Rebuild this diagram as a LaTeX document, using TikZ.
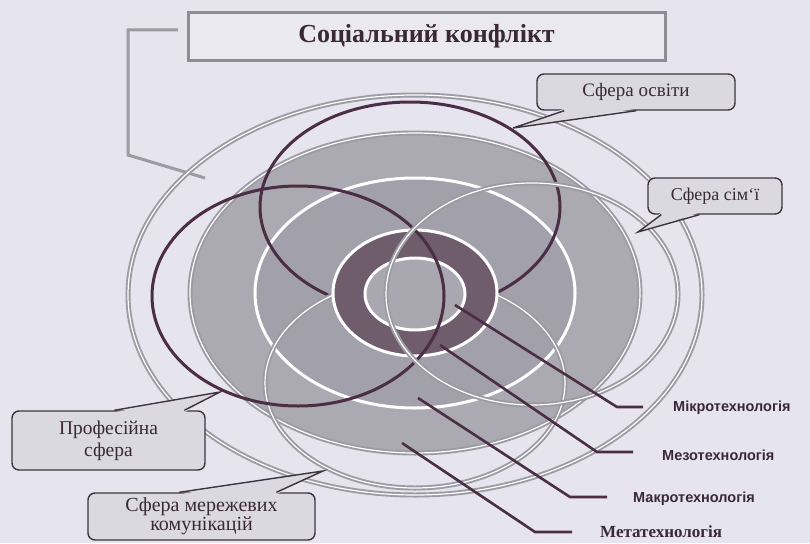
\documentclass[tikz,border=0pt]{standalone}
\usepackage{fontspec}
\setmainfont{Liberation Serif}
\newfontfamily\labfont{Liberation Sans}
\usetikzlibrary{calc}
\definecolor{bg}{HTML}{E6E4EE}
\definecolor{dk}{HTML}{4B2D46}
\definecolor{ringc}{HTML}{9C9BA4}
\definecolor{metac}{HTML}{ABAAB2}
\definecolor{makroc}{HTML}{A2A0AA}
\definecolor{mezoc}{HTML}{6F5C6C}
\definecolor{mikroc}{HTML}{A9A7AF}
\definecolor{callfill}{HTML}{DAD9E0}
\definecolor{callline}{HTML}{3E3340}
\definecolor{titleline}{HTML}{8E8D96}
\definecolor{titlefill}{HTML}{EAE9F1}
\definecolor{txt}{HTML}{3A2838}
\begin{document}
\begin{tikzpicture}[x=1pt,y=-1pt,
  darkring/.style={draw=dk,line width=3pt},
  grayring/.style={draw=ringc,line width=5pt,postaction={draw=white,line width=1.2pt}},
  whitering/.style={draw=white,line width=3pt},
  callbox/.style={draw=callline,line width=1.4pt,fill=callfill,rounded corners=7pt,inner sep=2pt,text=txt,font=\fontsize{19}{21}\selectfont,align=center},
  tailfill/.style={fill=callfill},
  tailline/.style={draw=callline,line width=1.4pt,line join=miter},
  ptr/.style={draw=dk,line width=2.6pt},
  techlab/.style={anchor=west,inner sep=0pt,text=txt,font=\labfont\bfseries\fontsize{14.5}{16}\selectfont},
]
\useasboundingbox (0,0) rectangle (810,543);
\fill[bg] (0,0) rectangle (810,543);

% title
\node[draw=titleline,line width=3pt,fill=titlefill,minimum width=477pt,minimum height=47pt,inner sep=0pt,text=txt,font=\bfseries\fontsize{26}{28}\selectfont] (title) at (426.5,36.5) {Соціальний конфлікт};
\coordinate (brA) at (178,30);
\coordinate (brB) at (128,30);
\coordinate (brC) at (128,155);
\coordinate (brD) at (205,178);
\draw[ringc,line width=3pt] (brA) -- (brB) -- (brC) -- (brD);

% outer ring (social conflict)
\draw[grayring] (415,295) ellipse [x radius=287, y radius=200];

% target
\fill[metac] (415,293) ellipse [x radius=225, y radius=160];
\draw[grayring] (415,293) ellipse [x radius=225, y radius=160];
\fill[makroc] (415,293) ellipse [x radius=160, y radius=115];
\draw[whitering] (415,293) ellipse [x radius=160, y radius=115];

% spheres drawn under the core
\draw[darkring] (410,207) ellipse [x radius=150, y radius=105];
\draw[grayring] (415,383) ellipse [x radius=150, y radius=105];

% core
\fill[mezoc] (415,293) ellipse [x radius=82, y radius=63];
\draw[whitering] (415,293) ellipse [x radius=82, y radius=63];
\fill[mikroc] (415,294) ellipse [x radius=50, y radius=36];
\draw[whitering] (415,294) ellipse [x radius=50, y radius=36];

% spheres over the core
\draw[darkring] (298,296) ellipse [x radius=146, y radius=110];
\draw[grayring] (532,294) ellipse [x radius=146, y radius=111];

% technology labels and pointers
\node[techlab] (mikro) at (673,408) {Мікротехнологія};
\node[techlab] (mezo) at (662,455) {Мезотехнологія};
\node[techlab] (makro) at (633,499) {Макротехнологія};
\node[techlab,font=\bfseries\fontsize{17}{19}\selectfont] (meta) at (600,532) {Метатехнологія};
\coordinate (mikroS) at (455,305);
\coordinate (mikroB) at (617,407);
\coordinate (mezoS) at (440,345);
\coordinate (mezoB) at (597,452);
\coordinate (makroS) at (418,398);
\coordinate (makroB) at (570,497);
\coordinate (metaS) at (402,443);
\coordinate (metaB) at (535,532);
\draw[ptr] (mikroS) -- (mikroB) -- ([xshift=-30pt]mikro.west |- mikroB);
\draw[ptr] (mezoS) -- (mezoB) -- ([xshift=-29pt]mezo.west |- mezoB);
\draw[ptr] (makroS) -- (makroB) -- ([xshift=-26pt]makro.west |- makroB);
\draw[ptr] (metaS) -- (metaB) -- ([xshift=-28pt]meta.west |- metaB);

% callouts
\node[callbox,minimum width=198pt,minimum height=36pt] (osv) at (636,92) {Сфера освіти};
\coordinate (osvtip) at (513,128);
\fill[tailfill] ($(osv.south west)+(28,-2)$) -- (osvtip) -- ($(osv.south west)+(100,-2)$) -- cycle;
\draw[tailline] ($(osv.south west)+(28,0)$) -- (osvtip) -- ($(osv.south west)+(100,0)$);

\node[callbox,minimum width=134pt,minimum height=36pt,font=\fontsize{18}{20}\selectfont] (sim) at (715,196) {Сфера сім`ї};
\coordinate (simtip) at (638,232);
\fill[tailfill] ($(sim.south west)+(14,-2)$) -- (simtip) -- ($(sim.south west)+(52,-2)$) -- cycle;
\draw[tailline] ($(sim.south west)+(14,0)$) -- (simtip) -- ($(sim.south west)+(52,0)$);

\node[callbox,minimum width=193pt,minimum height=59pt,font=\fontsize{19.5}{22}\selectfont] (prof) at (108.5,440.5) {Професійна\\сфера};
\coordinate (proftip) at (220,392);
\fill[tailfill] ($(prof.north west)+(103,2)$) -- (proftip) -- ($(prof.north west)+(173,2)$) -- cycle;
\draw[tailline] ($(prof.north west)+(103,0)$) -- (proftip) -- ($(prof.north west)+(173,0)$);

\node[callbox,minimum width=227pt,minimum height=47pt,font=\fontsize{20}{17}\selectfont] (mer) at (201.5,516.5) {Сфера мережевих\\комунікацій};
\coordinate (mertip) at (323,471);
\fill[tailfill] ($(mer.north west)+(92,2)$) -- (mertip) -- ($(mer.north west)+(189,2)$) -- cycle;
\draw[tailline] ($(mer.north west)+(92,0)$) -- (mertip) -- ($(mer.north west)+(189,0)$);
\end{tikzpicture}
\end{document}
